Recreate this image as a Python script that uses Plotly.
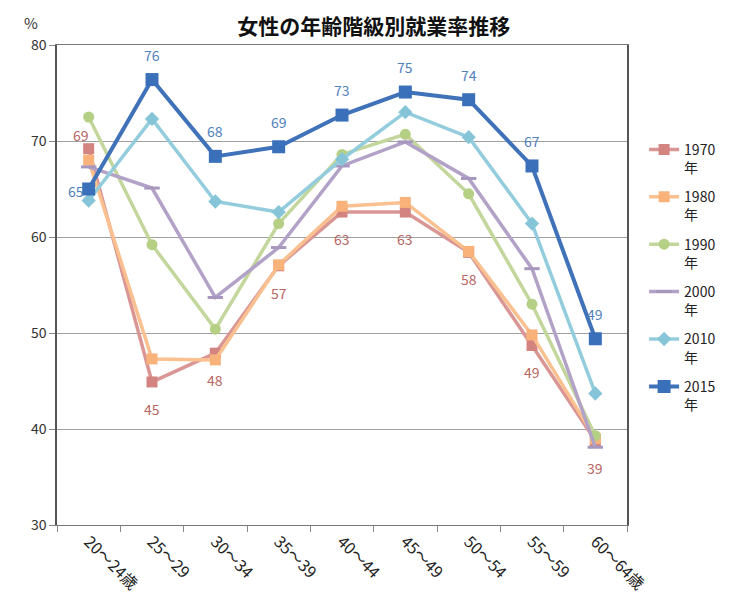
import plotly.graph_objects as go

categories = ["20～24歳", "25～29", "30～34", "35～39", "40～44", "45～49", "50～54", "55～59", "60～64歳"]
years = ["1970年", "1980年", "1990年", "2000年", "2010年", "2015年"]
v1970 = [69.2, 44.9, 47.9, 57.0, 62.6, 62.6, 58.4, 48.7, 38.8]
v1980 = [68.0, 47.3, 47.2, 57.1, 63.2, 63.6, 58.5, 49.8, 39.0]
v1990 = [72.5, 59.2, 50.4, 61.4, 68.6, 70.7, 64.5, 53.0, 39.3]
v2000 = [67.3, 65.1, 53.7, 58.9, 67.4, 69.9, 66.1, 56.7, 38.1]
v2010 = [63.8, 72.3, 63.7, 62.6, 68.1, 73.0, 70.4, 61.4, 43.7]
v2015 = [65.0, 76.4, 68.4, 69.4, 72.7, 75.1, 74.3, 67.4, 49.4]

series = [v1970, v1980, v1990, v2000, v2010, v2015]
line_colors = ["#d99694", "#fac090", "#c3d69b", "#b3a2c7", "#93cddd", "#3f72b9"]
marker_colors = ["#d48480", "#f9b37a", "#b5cf85", "#a796bd", "#86c5d8", "#3a6fba"]
symbols = ["square", "square", "circle", "line-ew", "diamond", "square"]
msizes = [11, 11, 11, 11, 11, 13]
lwidths = [3.5, 3.5, 3.5, 3.5, 3.5, 4]

FONT = "Noto Sans CJK JP"
fig = go.Figure()
for i, (name, vals) in enumerate(zip(years, series)):
    if symbols[i] == "line-ew":
        marker = dict(symbol="line-ew", size=msizes[i], line=dict(color=marker_colors[i], width=3))
    else:
        marker = dict(symbol=symbols[i], size=msizes[i], color=marker_colors[i],
                      line=dict(width=0))
    fig.add_trace(go.Scatter(
        x=categories, y=vals, name=name.replace("年", "<br>年"),
        mode="lines+markers", legendgroup=name,
        line=dict(color=line_colors[i], width=lwidths[i]),
        marker=marker, cliponaxis=False))

annotations = []
# data labels for 1970 (below) and 2015 (above)
for j, (c, v) in enumerate(zip(categories, v1970)):
    xs, ys = (-8, 14) if j == 0 else (0, -27)
    annotations.append(dict(x=c, y=v, text=f"{v:.0f}", showarrow=False,
                            xshift=xs, yshift=ys,
                            font=dict(size=14, color="#b86663", family=FONT)))
for j, (c, v) in enumerate(zip(categories, v2015)):
    xs, ys = (-13, -2) if j == 0 else (0, 25)
    annotations.append(dict(x=c, y=v, text=f"{v:.0f}", showarrow=False,
                            xshift=xs, yshift=ys,
                            font=dict(size=14, color="#5082bd", family=FONT)))
annotations.append(dict(text="%", xref="paper", yref="paper", x=-0.045, y=1.02,
                        xanchor="center", yanchor="bottom", showarrow=False,
                        font=dict(size=15, color="#333333")))

fig.update_layout(
    width=733, height=599,
    margin=dict(l=57, r=106, t=45, b=74),
    paper_bgcolor="white", plot_bgcolor="white",
    font=dict(family=FONT, size=13, color="#333333"),
    title=dict(text="<b>女性の年齢階級別就業率推移</b>", x=0.51, xanchor="center",
               y=0.955, yanchor="middle",
               font=dict(size=21, color="#111111", family=FONT)),
    showlegend=True,
    legend=dict(x=1.03, y=0.815, xanchor="left", yanchor="top",
                font=dict(size=14, color="#222222", family=FONT),
                valign="top", tracegroupgap=8, itemwidth=30,
                bgcolor="rgba(0,0,0,0)"),
    annotations=annotations,
)
fig.update_xaxes(
    type="category", range=[-0.5, 8.5], tickson="boundaries", automargin=False,
    ticks="outside", ticklen=6, tickcolor="#888888",
    showline=True, linecolor="#777777", linewidth=1.2, mirror=True,
    showgrid=False, tickangle=45, tickfont=dict(size=16, color="#222222"),
)
fig.update_yaxes(
    range=[30, 80], dtick=10, ticks="outside", ticklen=6, tickcolor="#888888",
    showline=True, linecolor="#555555", linewidth=1.5, mirror=True, automargin=False,
    showgrid=True, gridcolor="#a0a0a0", gridwidth=1,
    tickfont=dict(size=14, color="#333333"), zeroline=False,
)
fig.write_html("out.html")
